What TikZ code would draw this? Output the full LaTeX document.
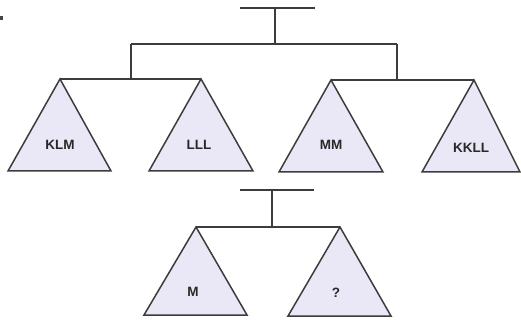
\documentclass[tikz,border=0pt]{standalone}
\usepackage{fontspec}
\setmainfont{Liberation Sans}
\definecolor{lncol}{RGB}{60,60,60}
\definecolor{trifill}{RGB}{234,232,246}
\definecolor{txtcol}{RGB}{40,40,40}
\definecolor{dotcol}{RGB}{70,70,70}
\begin{document}
\begin{tikzpicture}[x=1pt,y=-1pt,
  ln/.style={draw=lncol,line width=1.5pt},
  tri/.style={ln,fill=trifill,line join=miter},
  lbl/.style={font=\bfseries\fontsize{13.5}{13.5}\selectfont,text=txtcol,inner sep=0pt}]
\useasboundingbox (0,0) rectangle (521,320);
\fill[dotcol] (0,16.5) rectangle (2.5,20);
% top tree
\coordinate (t1) at (240,8);
\coordinate (t2) at (315,8);
\coordinate (tm) at (275,8);
\coordinate (hm) at (275,44);
\coordinate (hl) at (131,44);
\coordinate (hr) at (397,44);
\coordinate (bl) at (131,79);
\coordinate (br) at (397,80);
\coordinate (aKLM) at (60,79);
\coordinate (aLLL) at (201,79);
\coordinate (aMM) at (331,80);
\coordinate (aKKLL) at (474,80);
\draw[ln] (t1) -- (t2);
\draw[ln] (tm) -- (hm);
\draw[ln] (hl) -- (hr);
\draw[ln] (hl) -- (bl);
\draw[ln] (hr) -- (br);
\draw[ln] (aKLM) -- (aLLL);
\draw[ln] (aMM) -- (aKKLL);
\draw[tri] (aKLM) -- (111,171) -- (8,171) -- cycle;
\draw[tri] (aLLL) -- (253,171) -- (149,171) -- cycle;
\draw[tri] (aMM) -- (383,172) -- (279,172) -- cycle;
\draw[tri] (aKKLL) -- (520,172) -- (422,172) -- cycle;
\node[lbl] (KLM) at (60,145) {KLM};
\node[lbl] (LLL) at (199,145) {LLL};
\node[lbl] (MM) at (331,145) {MM};
\node[lbl] (KKLL) at (471,148) {KKLL};
% bottom tree
\coordinate (u1) at (240,190);
\coordinate (u2) at (314,190);
\coordinate (um) at (272,190);
\coordinate (vm) at (272,226);
\coordinate (aM) at (196,227);
\coordinate (aQ) at (340,227);
\draw[ln] (u1) -- (u2);
\draw[ln] (um) -- (vm);
\draw[ln] (aM) -- (aQ);
\draw[tri] (aM) -- (247,315) -- (144,315) -- cycle;
\draw[tri] (aQ) -- (391,316) -- (288,316) -- cycle;
\node[lbl] (M) at (193,292) {M};
\node[lbl] (Q) at (336,293) {?};
\end{tikzpicture}
\end{document}
